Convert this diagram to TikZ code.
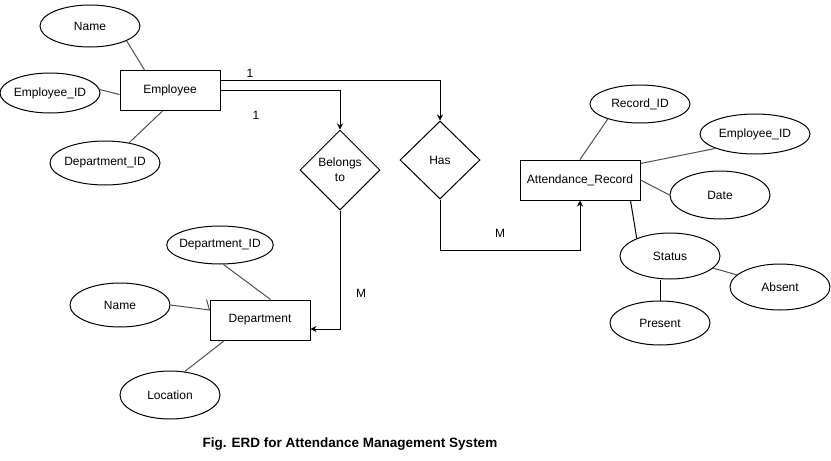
\documentclass[tikz,border=0pt]{standalone}
\usepackage{fontspec}
\setmainfont{Liberation Sans}
\usetikzlibrary{shapes.geometric,arrows.meta}
\definecolor{attrgray}{RGB}{80,80,80}
\begin{document}
\begin{tikzpicture}[x=1pt,y=-1pt,
	font=\fontsize{12}{15}\selectfont,
	entity/.style={draw,line width=1pt,rectangle,minimum width=100pt,minimum height=40pt,inner sep=0pt},
	attr/.style={draw,line width=1pt,ellipse,minimum width=100pt,minimum height=42pt,inner sep=0pt,inner xsep=-3pt},
	rel/.style={draw,line width=1pt,diamond,minimum width=80pt,minimum height=80pt,inner sep=0pt,align=center},
	attrline/.style={draw=attrgray,line width=1pt},
	blackline/.style={draw=black,line width=1pt},
	relline/.style={draw,line width=1pt,-{Stealth[length=6pt,width=6pt]}},
	card/.style={inner sep=0pt}]
		\useasboundingbox (0,0) rectangle (831,461);
		\node[entity] (emp) at (170,90.5) {Employee};
		\node[attr] (ename) at (90,26) {Name};
		\node[attr,minimum height=40pt] (eid) at (50,93) {Employee\_ID};
		\node[attr,minimum width=110pt,minimum height=44pt] (edid) at (105,163) {Department\_ID};
		\node[rel] (bel) at (340,170) {Belongs\\to};
		\node[rel,minimum height=78pt] (has) at (440,160) {Has};
		\node[entity,minimum width=120pt] (ar) at (580,180) {Attendance\_Record};
		\node[attr,minimum height=38pt] (rid) at (640,104) {Record\_ID};
		\node[attr,minimum width=110pt,minimum height=40pt] (aeid) at (755,134) {Employee\_ID};
		\node[attr,minimum height=48pt] (date) at (720,195) {Date};
		\node[attr,minimum height=46pt] (status) at (670,256) {Status};
		\node[attr,minimum height=46pt] (absent) at (780,287) {Absent};
		\node[attr,minimum height=44pt] (present) at (660,323) {Present};
		\node[entity] (dept) at (260,320) {Department};
		\node[attr,minimum height=38pt] (ddid) at (220,245) {Department\_ID};
		\node[attr,minimum height=44pt] (dname) at (120,305) {Name};
		\node[attr,minimum height=48pt] (loc) at (170,395) {Location};
		\node[card] (c1) at (250,73) {1};
		\node[card] (c2) at (256,115) {1};
		\node[card] (m1) at (500,233) {M};
		\node[card] (m2) at (361,293) {M};
		\node[font=\fontsize{13.5}{16}\selectfont\bfseries] (caption) at (350,444) {Fig. ERD for Attendance Management System};
		\path[attrline]
		(ename.-22) edge ([xshift=25pt]emp.north west)
		(eid.4) edge ([yshift=-4pt]emp.west)
		(edid.40) edge ([xshift=43pt]emp.south west);
		\path[attrline]
		(ddid.-80) edge ([xshift=61pt]dept.north west)
		(loc.58) edge ([xshift=15pt]dept.south west);
		\draw[attrline] (dname.east) -- ([yshift=10pt]dept.west) -- ([xshift=-3pt]dept.north west);
		\path[attrline]
		(rid.-155) edge (ar.north)
		(aeid.-160) edge ([yshift=-4pt]ar.north east)
		(date.west) edge (ar.east)
		(status) edge (absent);
		\path[blackline]
		(status.152) edge ([xshift=-10pt]ar.south east)
		(present.north) edge (present.north |- status.south);
		\draw[relline] ([yshift=10pt]emp.east) -| (has.north);
		\draw[relline] (emp.east) -| (bel.north);
		\draw[relline] (has.south) -- ++(0,51) -| (ar.south);
		\draw[relline] (bel.south) |- ([yshift=-9pt]dept.east);
\end{tikzpicture}
\end{document}
